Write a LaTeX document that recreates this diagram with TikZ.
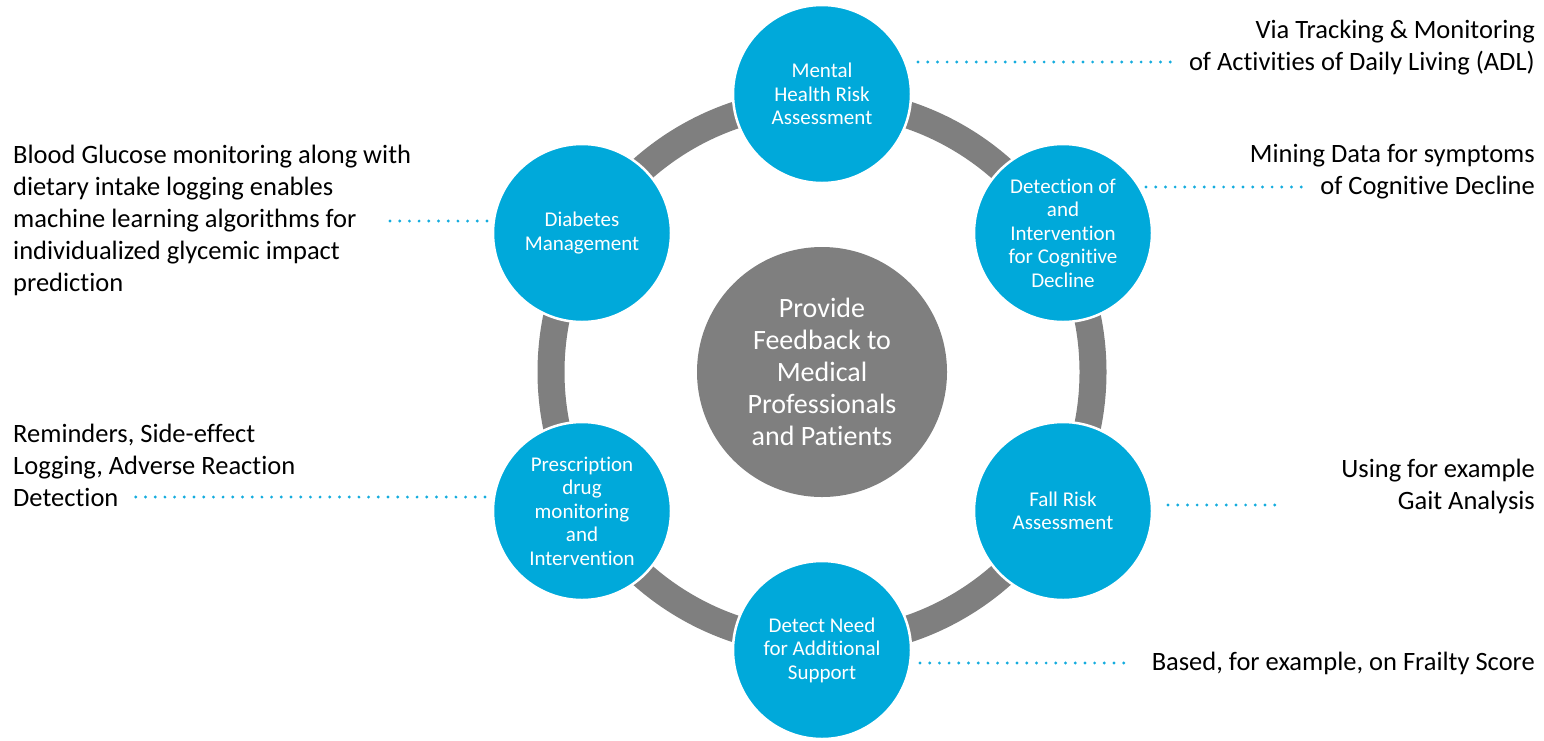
\documentclass[tikz,border=0pt]{standalone}
\usepackage{fontspec}
\setmainfont{Carlito}[Ligatures=NoCommon]
\definecolor{stageblue}{RGB}{0,169,218}
\definecolor{hubgray}{RGB}{127,127,127}
\definecolor{dotblue}{RGB}{20,172,222}
\begin{document}
\begin{tikzpicture}[x=1pt,y=-1pt,
  stage/.style={circle, fill=stageblue, draw=white, line width=2.5pt,
    minimum size=178pt, inner sep=0pt, text=white, align=center,
    font=\fontsize{21}{23.5}\selectfont},
  hub/.style={circle, fill=hubgray, minimum size=250pt, inner sep=0pt,
    text=white, align=center, font=\fontsize{28}{32}\selectfont},
  note/.style={inner sep=0pt, text=black, font=\fontsize{26.5}{32}\selectfont},
  leader/.style={draw=dotblue, line width=3.2pt, dash pattern=on 0pt off 9.7pt,
    line cap=round}
]
\useasboundingbox (0,0) rectangle (1544,740);

% ring joining the six stages
\draw[hubgray, line width=27pt] (822,372) circle[radius=271pt];

% central hub
\node[hub] (hub) at (822,372)
  {Provide\\Feedback to\\Medical\\Professionals\\and Patients};

% stages around the ring
\node[stage] (mental) at (822,94) {Mental\\Health Risk\\Assessment};
\node[stage] (cog) at (1063,233)
  {Detection of\\and\\Intervention\\for Cognitive\\Decline};
\node[stage] (fall) at (1063,511) {Fall Risk\\Assessment};
\node[stage] (support) at (822,650) {Detect Need\\for Additional\\Support};
\node[stage] (drug) at (582,511)
  {Prescription\\drug\\monitoring\\and\\Intervention};
\node[stage] (diab) at (582,233) {Diabetes\\Management};

% annotations
\node[note, anchor=east, align=right] (nmental) at (1535,47.5)
  {Via Tracking \& Monitoring\\of Activities of Daily Living (ADL)};
\node[note, anchor=east, align=right] (ncog) at (1535,172)
  {Mining Data for symptoms\\of Cognitive Decline};
\node[note, anchor=east, align=right] (nfall) at (1535,486.5)
  {Using for example\\Gait Analysis};
\node[note, anchor=east] (nsupport) at (1535,663)
  {Based, for example, on Frailty Score};
\node[note, anchor=west, align=left] (ndiab) at (13,220.5)
  {Blood Glucose monitoring along with\\dietary intake logging enables\\machine learning algorithms for\\individualized glycemic impact\\prediction};
\node[note, anchor=west, align=left] (ndrug) at (13,465)
  {Reminders, Side-effect\\Logging, Adverse Reaction\\Detection};

% dotted leaders
\coordinate (mentalA) at (918,62);   \coordinate (mentalB) at (1178,62);
\coordinate (cogA) at (1146,187);    \coordinate (cogB) at (1305,187);
\coordinate (fallA) at (1168,505);   \coordinate (fallB) at (1282,505);
\coordinate (supportA) at (920,663); \coordinate (supportB) at (1125,663);
\coordinate (diabA) at (487,221);    \coordinate (diabB) at (383,221);
\coordinate (drugA) at (485,497);    \coordinate (drugB) at (135,497);
\foreach \s in {mental,cog,fall,support,diab,drug}
  \draw[leader] (\s A) -- (\s B);
\end{tikzpicture}
\end{document}
